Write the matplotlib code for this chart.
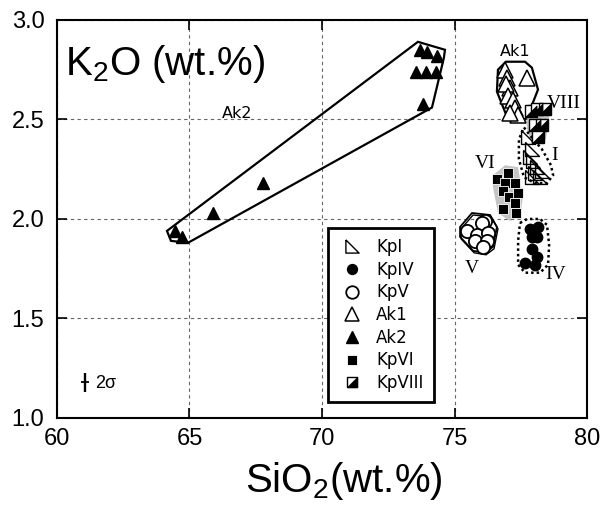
import matplotlib
matplotlib.use('Agg')
import matplotlib.pyplot as plt
from matplotlib.patches import Polygon

plt.rcParams['mathtext.default'] = 'regular'

# --- datos (SiO2, K2O en wt.%) ---
ak2_sio2 = [73.70, 73.95, 74.33, 73.55, 73.92, 74.30, 73.82, 67.76, 65.90, 64.45, 64.72]
ak2_k2o = [2.85, 2.84, 2.82, 2.74, 2.74, 2.74, 2.58, 2.18, 2.03, 1.94, 1.91]

ak1_sio2 = [76.91, 77.74, 76.98, 77.09, 76.95, 77.02, 77.21, 77.28, 77.40, 77.09]
ak1_k2o = [2.75, 2.71, 2.71, 2.66, 2.68, 2.62, 2.60, 2.56, 2.52, 2.53]

kp1_sio2 = [77.77, 77.92, 77.85, 77.96, 78.11, 78.04, 78.23, 77.92, 78.30]
kp1_k2o = [2.41, 2.35, 2.31, 2.29, 2.26, 2.23, 2.21, 2.21, 2.24]

kp8_sio2 = [77.89, 78.11, 78.42, 78.04, 78.30, 78.15]
kp8_k2o = [2.54, 2.55, 2.55, 2.47, 2.47, 2.41]

kp6_sio2 = [77.03, 76.59, 76.91, 77.28, 76.84, 77.07, 77.41, 77.28, 76.84, 77.32]
kp6_k2o = [2.23, 2.20, 2.18, 2.18, 2.14, 2.11, 2.13, 2.08, 2.05, 2.03]

kp5_sio2 = [76.15, 76.03, 75.46, 75.84, 76.28, 75.77, 76.21, 76.09]
kp5_k2o = [1.99, 1.98, 1.94, 1.92, 1.93, 1.89, 1.89, 1.86]

kp4_sio2 = [77.85, 78.16, 77.92, 78.11, 77.92, 78.11, 77.66, 78.04]
kp4_k2o = [1.95, 1.96, 1.91, 1.91, 1.85, 1.81, 1.78, 1.77]

# contornos de cada grupo
ak2_hull = [(64.15, 1.94), (64.30, 1.89), (64.94, 1.88), (74.15, 2.56),
            (74.60, 2.81), (74.64, 2.85), (73.62, 2.89)]
ak1_hull = [(76.64, 2.75), (76.94, 2.79), (77.66, 2.79), (77.92, 2.76), (78.15, 2.65),
            (77.77, 2.52), (77.66, 2.50), (77.02, 2.50), (76.60, 2.64)]
kp1_hull = [(77.62, 2.46), (77.85, 2.42), (78.30, 2.35), (78.64, 2.27), (78.72, 2.22),
            (78.49, 2.18), (78.04, 2.18), (77.62, 2.21), (77.43, 2.30), (77.43, 2.40)]
kp4_hull = [(77.47, 1.98), (77.74, 2.00), (78.23, 2.00), (78.49, 1.97), (78.57, 1.87),
            (78.53, 1.77), (78.23, 1.73), (77.66, 1.73), (77.40, 1.77), (77.40, 1.89)]
kp5_hull = [(75.21, 1.96), (75.66, 2.03), (76.34, 2.02), (76.60, 1.96), (76.45, 1.86),
            (76.15, 1.83), (75.70, 1.84), (75.21, 1.91)]
kp6_hull = [(76.45, 2.22), (76.91, 2.27), (77.40, 2.26), (77.58, 2.11), (77.47, 2.01),
            (77.09, 1.99), (76.64, 2.03), (76.45, 2.16)]
kp8_hull = [(77.66, 2.57), (77.92, 2.58), (78.53, 2.57), (78.57, 2.51), (78.45, 2.40),
            (77.92, 2.37), (77.74, 2.45)]

etiquetas = ['Ak2', 'Ak1', 'VIII', 'I', 'VI', 'V', 'IV']
etiq_x = [66.79, 77.28, 79.13, 78.79, 76.15, 75.65, 78.83]
etiq_y = [2.53, 2.84, 2.58, 2.32, 2.28, 1.75, 1.72]

# marcadores propios
tri_rect = [(-1, 1), (-1, -1), (1, -1), (-1, 1)]
medio_neg = [(-1, -1), (1, -1), (1, 1), (-1, -1)]

fig = plt.figure(figsize=(6.03, 5.11), dpi=100)
ax = fig.add_axes([0.0945, 0.182, 0.879, 0.779])

# areas grises y contornos
ax.add_patch(Polygon(kp6_hull, closed=True, facecolor='#c4c4c4', edgecolor='none', zorder=1))
ax.add_patch(Polygon(kp8_hull, closed=True, facecolor='#c4c4c4', edgecolor='none', zorder=1))
ax.add_patch(Polygon(ak2_hull, closed=True, fill=False, edgecolor='k', lw=1.6, zorder=2))
ax.add_patch(Polygon(ak1_hull, closed=True, fill=False, edgecolor='k', lw=1.6, zorder=2))
ax.add_patch(Polygon(kp5_hull, closed=True, fill=False, edgecolor='k', lw=1.3, zorder=2))
kp5_hull2 = [(x + 0.04, y - 0.01) for x, y in kp5_hull]
ax.add_patch(Polygon(kp5_hull2, closed=True, fill=False, edgecolor='k', lw=1.0, zorder=2))
ax.add_patch(Polygon(kp1_hull, closed=True, fill=False, edgecolor='k', lw=1.8,
                     linestyle=(0, (1, 1.2)), zorder=2))
ax.add_patch(Polygon(kp4_hull, closed=True, fill=False, edgecolor='k', lw=1.8,
                     linestyle=(0, (1, 1.2)), zorder=2))

# puntos
h1, = ax.plot(kp1_sio2, kp1_k2o, ls='none', marker=tri_rect, ms=10, mfc='none',
              mec='k', mew=1.0, zorder=3)
h4, = ax.plot(kp4_sio2, kp4_k2o, ls='none', marker='o', ms=7.5, mfc='k',
              mec='k', zorder=3)
h5, = ax.plot(kp5_sio2, kp5_k2o, ls='none', marker='o', ms=9.5, mfc='white',
              mec='k', mew=1.3, zorder=3)
ha1, = ax.plot(ak1_sio2, ak1_k2o, ls='none', marker='^', ms=11, mfc='white',
               mec='k', mew=1.1, zorder=3)
ha2, = ax.plot(ak2_sio2, ak2_k2o, ls='none', marker='^', ms=8.5, mfc='k',
               mec='k', zorder=3)
h6, = ax.plot(kp6_sio2, kp6_k2o, ls='none', marker='s', ms=7.5, mfc='k',
              mec='white', mew=0.6, zorder=3)
h8a, = ax.plot(kp8_sio2, kp8_k2o, ls='none', marker='s', ms=8, mfc='white',
               mec='k', mew=1.0, zorder=3)
h8b, = ax.plot(kp8_sio2, kp8_k2o, ls='none', marker=medio_neg, ms=8, mfc='k',
               mec='k', mew=0.5, zorder=4)

for t, x, y in zip(etiquetas, etiq_x, etiq_y):
    if t.startswith('Ak'):
        ax.text(x, y, t, fontsize=11.5, family='DejaVu Sans', ha='center', va='center')
    else:
        ax.text(x, y, t, fontsize=14, family='Liberation Serif', ha='center', va='center')

# barra de error 2 sigma
ax.errorbar(61.06, 1.18, yerr=0.048, fmt='_', color='k', ms=6, mew=1.3,
            elinewidth=1.7, capsize=0)
ax.text(61.45, 1.175, '2σ', fontsize=13, family='Liberation Sans', va='center')

ax.text(0.015, 0.862, 'K$_2$O (wt.%)', transform=ax.transAxes, fontsize=29,
        family='Liberation Sans', va='baseline')

leg = ax.legend([h1, h4, h5, ha1, ha2, h6, (h8a, h8b)],
                ['KpI', 'KpIV', 'KpV', 'Ak1', 'Ak2', 'KpVI', 'KpVIII'],
                loc='upper left', bbox_to_anchor=(0.511, 0.477), borderaxespad=0,
                fancybox=False, framealpha=1, edgecolor='k', borderpad=0.6,
                labelspacing=0.28, handlelength=1.7, handletextpad=0.6,
                prop={'family': 'DejaVu Sans', 'size': 12}, markerscale=0.95)
leg.get_frame().set_linewidth(2.0)

ax.set_xlim(60, 80)
ax.set_ylim(1.0, 3.0)
ax.set_xticks([60, 65, 70, 75, 80])
ax.set_yticks([1.0, 1.5, 2.0, 2.5, 3.0])
ax.set_yticklabels(['1.0', '1.5', '2.0', '2.5', '3.0'])
ax.tick_params(direction='in', top=True, right=True, length=7, width=1.2,
               labelsize=17, labelfontfamily='Liberation Sans')
ax.tick_params(axis='x', pad=7)
ax.tick_params(axis='y', pad=9)
ax.grid(True, linestyle=(0, (3, 3)), color='#666666', lw=0.8)
for s in ax.spines.values():
    s.set_linewidth(1.5)

ax.set_xlabel('SiO$_2$(wt.%)', fontsize=29, family='Liberation Sans')
ax.xaxis.set_label_coords(0.542, -0.186)
ax.xaxis.label.set_va('baseline')

fig.savefig('out.png', dpi=100)
